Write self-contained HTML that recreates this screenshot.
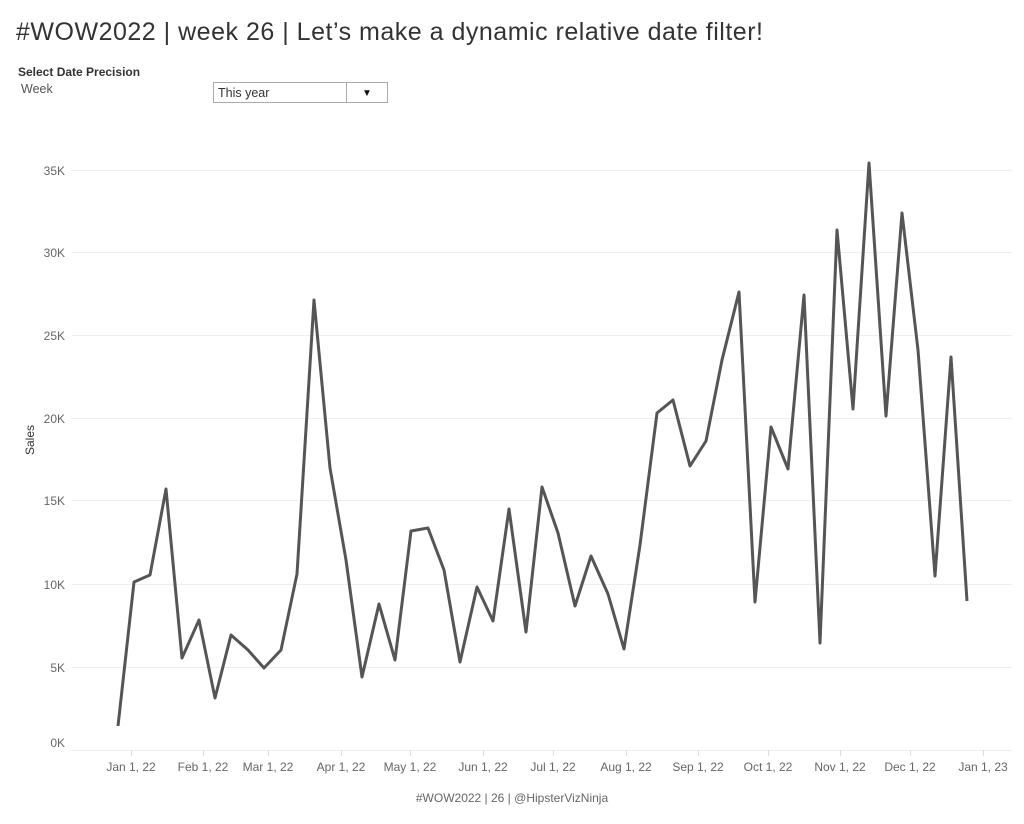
<!DOCTYPE html>
<html><head><meta charset="utf-8"><style>
body{margin:0;background:#fff;width:1024px;height:819px;overflow:hidden;font-family:"Liberation Sans",sans-serif}
</style></head><body>
<svg width="1024" height="819" xmlns="http://www.w3.org/2000/svg" font-family="Liberation Sans, sans-serif">
<text x="16" y="40" font-size="25" fill="#333" textLength="747" lengthAdjust="spacing">#WOW2022 | week 26 | Let’s make a dynamic relative date filter!</text>
<text x="18" y="76" font-size="12" font-weight="bold" fill="#333">Select Date Precision</text>
<text x="21" y="93" font-size="12.5" fill="#555">Week</text>
<rect x="213.5" y="82.5" width="174" height="20" fill="#fff" stroke="#aaa"/>
<line x1="346.5" y1="83" x2="346.5" y2="102" stroke="#aaa"/>
<text x="218" y="97" font-size="12.5" fill="#333">This year</text>
<text x="362" y="96" font-size="10" fill="#111">▼</text>
<g stroke="#eee" stroke-width="1">
<line x1="72" y1="170.5" x2="1012" y2="170.5"/><line x1="72" y1="252.5" x2="1012" y2="252.5"/>
<line x1="72" y1="335.5" x2="1012" y2="335.5"/><line x1="72" y1="418.5" x2="1012" y2="418.5"/>
<line x1="72" y1="500.5" x2="1012" y2="500.5"/><line x1="72" y1="584.5" x2="1012" y2="584.5"/>
<line x1="72" y1="667.5" x2="1012" y2="667.5"/><line x1="72" y1="750.5" x2="1012" y2="750.5"/>
</g>
<g stroke="#ddd"><line x1="131.5" y1="750" x2="131.5" y2="756"/><line x1="203.5" y1="750" x2="203.5" y2="756"/><line x1="268.5" y1="750" x2="268.5" y2="756"/><line x1="341.5" y1="750" x2="341.5" y2="756"/><line x1="410.5" y1="750" x2="410.5" y2="756"/><line x1="483.5" y1="750" x2="483.5" y2="756"/><line x1="553.5" y1="750" x2="553.5" y2="756"/><line x1="626.5" y1="750" x2="626.5" y2="756"/><line x1="698.5" y1="750" x2="698.5" y2="756"/><line x1="768.5" y1="750" x2="768.5" y2="756"/><line x1="840.5" y1="750" x2="840.5" y2="756"/><line x1="910.5" y1="750" x2="910.5" y2="756"/><line x1="983.5" y1="750" x2="983.5" y2="756"/></g>
<g font-size="12" fill="#666" text-anchor="end">
<text x="65" y="175">35K</text><text x="65" y="257">30K</text><text x="65" y="340">25K</text><text x="65" y="423">20K</text><text x="65" y="505">15K</text><text x="65" y="589">10K</text><text x="65" y="672">5K</text><text x="65" y="747">0K</text>
</g>
<text transform="translate(34,440) rotate(-90)" font-size="12" fill="#333" text-anchor="middle">Sales</text>
<g font-size="12" fill="#666" text-anchor="middle">
<text x="131" y="771">Jan 1, 22</text><text x="203" y="771">Feb 1, 22</text><text x="268" y="771">Mar 1, 22</text><text x="341" y="771">Apr 1, 22</text><text x="410" y="771">May 1, 22</text><text x="483" y="771">Jun 1, 22</text><text x="553" y="771">Jul 1, 22</text><text x="626" y="771">Aug 1, 22</text><text x="698" y="771">Sep 1, 22</text><text x="768" y="771">Oct 1, 22</text><text x="840" y="771">Nov 1, 22</text><text x="910" y="771">Dec 1, 22</text><text x="983" y="771">Jan 1, 23</text>
</g>
<text x="512" y="802" font-size="12" fill="#666" text-anchor="middle">#WOW2022 | 26 | @HipsterVizNinja</text>
<polyline fill="none" stroke="#555" stroke-width="3" stroke-linejoin="round" points="118,726 134,582 150,575 166,489 182,658 199,620 215,698 231,635 248,650 264,668 281,650 297,574 314,300 330,468 346,560 362,677 379,604 395,660 411,531 428,528 444,570 460,662 477,587 493,621 509,509 526,632 542,487 558,533 575,606 591,556 608,594 624,649 640,545 657,413 673,400 690,466 706,441 722,360 739,292 755,602 771,427 788,469 804,295 820,643 837,230 853,409 869,163 886,416 902,213 918,350 935,576 951,357 967,601"/>
</svg>
</body></html>
